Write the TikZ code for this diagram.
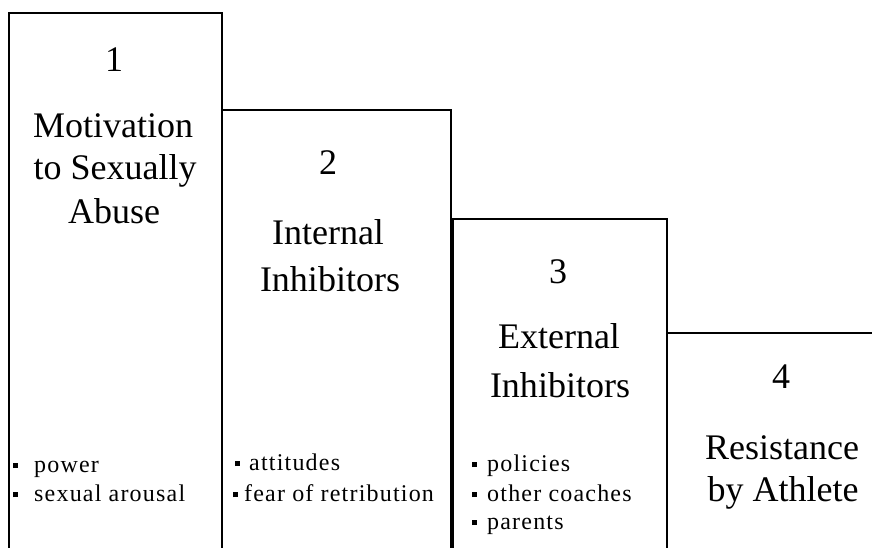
\documentclass[tikz,border=0pt]{standalone}
\usepackage{fontspec}
\setmainfont{Liberation Serif}
\newfontfamily\headfont{Liberation Serif}
\newfontfamily\listfont[LetterSpace=5]{Liberation Serif}
\newcommand\sqb{\rule[4pt]{5pt}{5pt}}
\begin{document}
\begin{tikzpicture}[x=1pt,y=-1pt,
  stairbox/.style={line width=2pt, line join=miter},
  head/.style={font=\headfont\fontsize{36}{40}\selectfont, anchor=base, inner sep=0pt},
  item/.style={font=\listfont\fontsize{24}{28}\selectfont, anchor=base west, inner sep=0pt}]
\useasboundingbox (0,0) rectangle (872,548);
% boxes
\draw[stairbox] (9,548) -- (9,13) -- (222,13) -- (222,548);
\draw[stairbox] (222,110) -- (451,110) -- (451,548);
\draw[stairbox] (453,548) -- (453,219) -- (667,219) -- (667,548);
\draw[stairbox] (667,333) -- (872,333);
% headings
\node[head] (n1) at (114,72) {1};
\node[head] (t1a) at (113,138) {Motivation};
\node[head] (t1b) at (115,180) {to Sexually};
\node[head] (t1c) at (114,223) {Abuse};
\node[head] (n2) at (328,175) {2};
\node[head] (t2a) at (328,244) {Internal};
\node[head] (t2b) at (330,291) {Inhibitors};
\node[head] (n3) at (558,283) {3};
\node[head] (t3a) at (559,348) {External};
\node[head] (t3b) at (560,397) {Inhibitors};
\node[head] (n4) at (781,388) {4};
\node[head] (t4a) at (782,459) {Resistance};
\node[head] (t4b) at (783,501) {by Athlete};
% items
\node[item] (i1a) at (13,472) {\sqb\hspace{16pt}power};
\node[item] (i1b) at (13,501) {\sqb\hspace{16pt}sexual arousal};
\node[item] (i2a) at (235,470) {\sqb\hspace{9pt}attitudes};
\node[item] (i2b) at (233,501) {\sqb\hspace{6pt}fear of retribution};
\node[item] (i3a) at (472,471) {\sqb\hspace{10pt}policies};
\node[item] (i3b) at (472,501) {\sqb\hspace{10pt}other coaches};
\node[item] (i3c) at (472,529) {\sqb\hspace{10pt}parents};
\end{tikzpicture}
\end{document}
